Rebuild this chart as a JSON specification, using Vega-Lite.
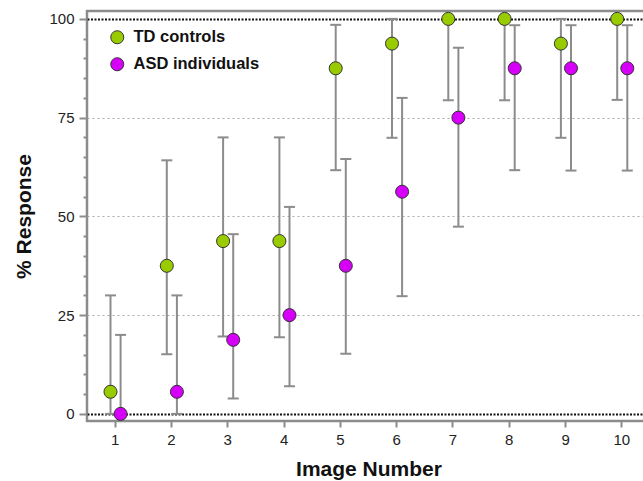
{
  "$schema": "https://vega.github.io/schema/vega-lite/v6.json",
  "width": 563,
  "height": 410,
  "autosize": {"type": "none"},
  "padding": {"left": 87, "top": 11, "right": 0, "bottom": 60},
  "background": "white",
  "config": {
    "view": {"stroke": "#8c8c8c", "strokeWidth": 2.5},
    "font": "Liberation Sans"
  },
  "data": {
    "values": [
      {"image": 1, "group": "TD controls", "value": 5.6, "lo": 0, "hi": 30},
      {"image": 2, "group": "TD controls", "value": 37.5, "lo": 15.1, "hi": 64.2},
      {"image": 3, "group": "TD controls", "value": 43.75, "lo": 19.6, "hi": 70},
      {"image": 4, "group": "TD controls", "value": 43.75, "lo": 19.4, "hi": 70},
      {"image": 5, "group": "TD controls", "value": 87.5, "lo": 61.7, "hi": 98.5},
      {"image": 6, "group": "TD controls", "value": 93.75, "lo": 69.9, "hi": 100},
      {"image": 7, "group": "TD controls", "value": 100, "lo": 79.4, "hi": 100},
      {"image": 8, "group": "TD controls", "value": 100, "lo": 79.4, "hi": 100},
      {"image": 9, "group": "TD controls", "value": 93.75, "lo": 69.9, "hi": 100},
      {"image": 10, "group": "TD controls", "value": 100, "lo": 79.5, "hi": 100},
      {"image": 1, "group": "ASD individuals", "value": 0, "lo": 0, "hi": 20},
      {"image": 2, "group": "ASD individuals", "value": 5.6, "lo": 0, "hi": 30},
      {"image": 3, "group": "ASD individuals", "value": 18.75, "lo": 3.9, "hi": 45.5},
      {"image": 4, "group": "ASD individuals", "value": 25, "lo": 7, "hi": 52.4},
      {"image": 5, "group": "ASD individuals", "value": 37.5, "lo": 15.2, "hi": 64.5},
      {"image": 6, "group": "ASD individuals", "value": 56.25, "lo": 29.8, "hi": 80},
      {"image": 7, "group": "ASD individuals", "value": 75, "lo": 47.4, "hi": 92.7},
      {"image": 8, "group": "ASD individuals", "value": 87.5, "lo": 61.7, "hi": 98.4},
      {"image": 9, "group": "ASD individuals", "value": 87.5, "lo": 61.6, "hi": 98.4},
      {"image": 10, "group": "ASD individuals", "value": 87.5, "lo": 61.6, "hi": 98.4}
    ]
  },
  "encoding": {
    "x": {
      "field": "image",
      "type": "ordinal",
      "scale": {"paddingInner": 0, "paddingOuter": 0},
      "axis": {
        "title": "Image Number",
        "labelAngle": 0,
        "titleFontSize": 21,
        "titleFontWeight": "bold",
        "titleColor": "#111",
        "titlePadding": 11,
        "tickSize": 6,
        "tickColor": "#8c8c8c",
        "tickWidth": 2,
        "domain": false,
        "labelFontSize": 15,
        "labelColor": "#222",
        "labelPadding": 5
      }
    },
    "xOffset": {
      "field": "group",
      "scale": {"type": "point", "padding": 0, "domain": ["TD controls", "ASD individuals"], "range": [23.5, 33.6]}
    }
  },
  "layer": [
    {
      "mark": {"type": "rule", "color": "#8c8c8c", "strokeWidth": 2},
      "encoding": {
        "y": {
          "field": "lo",
          "type": "quantitative",
          "scale": {"domain": [-1.8, 102], "nice": false, "zero": false},
          "axis": {
            "tickCount": 21,
            "title": "% Response",
            "titleFontSize": 21,
            "titleFontWeight": "bold",
            "titleColor": "#111",
            "titleX": -57,
            "titleBaseline": "alphabetic",
            "labelExpr": "datum.value % 25 == 0 ? datum.label : ''",
            "labelOverlap": false,
            "tickSize": {"condition": {"test": "datum.value % 25 == 0", "value": 8}, "value": 4},
            "tickColor": "#8c8c8c",
            "tickWidth": 2,
            "domain": false,
            "grid": true,
            "gridColor": {"condition": {"test": "datum.value == 0 || datum.value == 100", "value": "#111"}, "value": "#aaaaaa"},
            "gridOpacity": {"condition": {"test": "datum.value % 25 == 0", "value": 1}, "value": 0},
            "gridDash": {"condition": {"test": "datum.value == 0 || datum.value == 100", "value": [2, 1.5]}, "value": [2, 3]},
            "gridWidth": {"condition": {"test": "datum.value == 0 || datum.value == 100", "value": 2}, "value": 1},
            "labelFontSize": 15,
            "labelColor": "#222",
            "labelPadding": 5
          }
        },
        "y2": {"field": "hi"}
      }
    },
    {
      "mark": {"type": "tick", "color": "#8c8c8c", "thickness": 2, "size": 11, "opacity": 1},
      "encoding": {
        "y": {"field": "lo", "type": "quantitative", "scale": {"domain": [-1.8, 102], "nice": false, "zero": false}}
      }
    },
    {
      "mark": {"type": "tick", "color": "#8c8c8c", "thickness": 2, "size": 11, "opacity": 1},
      "encoding": {
        "y": {"field": "hi", "type": "quantitative", "scale": {"domain": [-1.8, 102], "nice": false, "zero": false}}
      }
    },
    {
      "mark": {"type": "point", "filled": true, "size": 170, "stroke": "#333333", "strokeWidth": 1, "opacity": 1},
      "encoding": {
        "y": {"field": "value", "type": "quantitative", "scale": {"domain": [-1.8, 102], "nice": false, "zero": false}},
        "color": {
          "field": "group",
          "type": "nominal",
          "scale": {"domain": ["TD controls", "ASD individuals"], "range": ["#99cc00", "#d600f8"]},
          "legend": {
            "orient": "none",
            "legendX": 22,
            "legendY": 18,
            "title": null,
            "padding": 0,
            "symbolType": "circle",
            "symbolSize": 170,
            "symbolStrokeColor": "#333333",
            "symbolStrokeWidth": 1,
            "symbolOpacity": 1,
            "labelFontSize": 16.5,
            "labelFontWeight": "bold",
            "labelColor": "#111",
            "labelOffset": 8,
            "rowPadding": 9
          }
        }
      }
    }
  ]
}
